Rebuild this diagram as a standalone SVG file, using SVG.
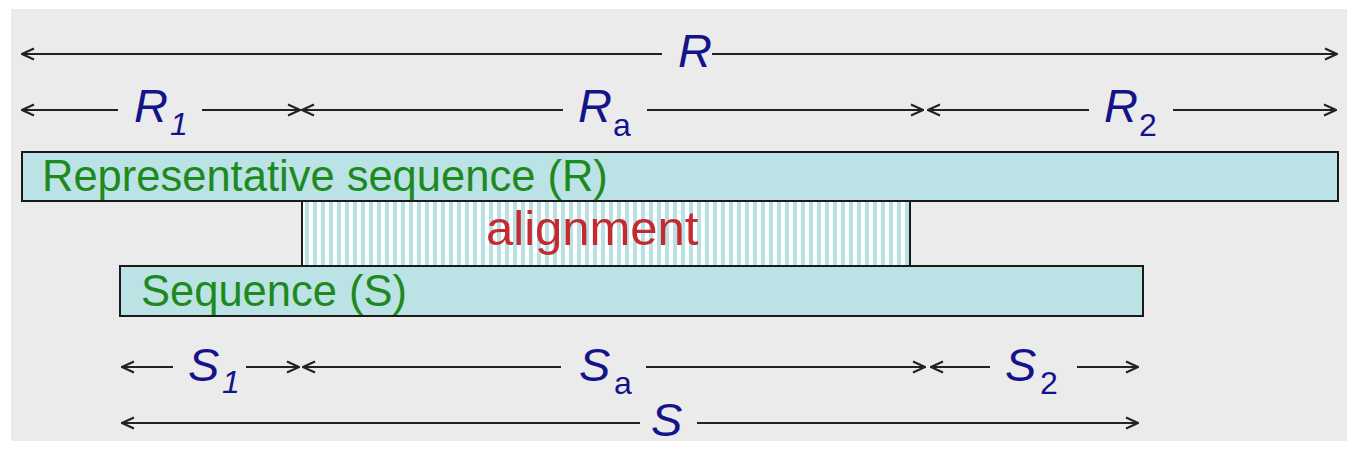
<svg xmlns="http://www.w3.org/2000/svg" width="1357" height="451" viewBox="0 0 1357 451">
  <defs>
    <pattern id="stripes" x="305" y="0" width="8" height="10" patternUnits="userSpaceOnUse">
      <rect x="0" y="0" width="8" height="10" fill="#ffffff"/>
      <rect x="0" y="0" width="4" height="10" fill="#b9e1e4"/>
    </pattern>
    <marker id="head" viewBox="0 0 14 14" refX="13" refY="7" markerWidth="14" markerHeight="14" markerUnits="userSpaceOnUse" orient="auto">
      <path d="M1,1.5 L13,7 L1,12.5" fill="none" stroke="#222" stroke-width="2"/>
    </marker>
  </defs>
  <style>
    .bar { fill: #bbe2e4; stroke: #1a1a1a; stroke-width: 2; }
    .conn line { stroke: #222; stroke-width: 2; marker-end: url(#head); }
    .lbl { font-family: "Liberation Sans", Arial, sans-serif; font-style: italic; fill: #14148a; font-size: 47px; }
    .sub { font-size: 32px; }
    .up { font-style: normal; }
    .boxtxt { font-family: "Liberation Sans", Arial, sans-serif; fill: #1e8a1e; font-size: 43.5px; }
    .align { font-family: "Liberation Sans", Arial, sans-serif; fill: #c42a30; font-size: 49px; }
  </style>
  <rect x="0" y="0" width="1357" height="451" fill="#ffffff"/>
  <rect x="11" y="9" width="1336" height="432" fill="#ebebeb"/>

  <g id="rep-seq">
    <rect class="bar" x="22" y="152" width="1316" height="49"/>
    <text class="boxtxt" x="42" y="191">Representative sequence (R)</text>
  </g>
  <g id="alignment">
    <rect x="302" y="201" width="608" height="65" fill="url(#stripes)" stroke="#1a1a1a" stroke-width="2"/>
    <text class="align" x="486" y="245">alignment</text>
  </g>
  <g id="seq">
    <rect class="bar" x="120" y="266" width="1023" height="50"/>
    <text class="boxtxt" x="141" y="306">Sequence (S)</text>
  </g>

  <g id="connectors" class="conn">
    <line x1="662" y1="54" x2="22" y2="54"/>
    <line x1="712" y1="54" x2="1337" y2="54"/>
    <line x1="118" y1="110" x2="22" y2="110"/>
    <line x1="202" y1="110" x2="300" y2="110"/>
    <line x1="563" y1="110" x2="302" y2="110"/>
    <line x1="647" y1="110" x2="923" y2="110"/>
    <line x1="1089" y1="110" x2="928" y2="110"/>
    <line x1="1173" y1="110" x2="1336" y2="110"/>
    <line x1="173" y1="367" x2="122" y2="367"/>
    <line x1="246" y1="367" x2="299" y2="367"/>
    <line x1="561" y1="367" x2="303" y2="367"/>
    <line x1="646" y1="367" x2="925" y2="367"/>
    <line x1="990" y1="367" x2="931" y2="367"/>
    <line x1="1077" y1="367" x2="1138" y2="367"/>
    <line x1="640" y1="423" x2="122" y2="423"/>
    <line x1="697" y1="423" x2="1138" y2="423"/>
  </g>

  <g id="label-R"><text class="lbl" x="678" y="67">R</text></g>
  <g id="label-R1"><text class="lbl" x="134" y="122">R</text><text class="lbl sub" x="170" y="135">1</text></g>
  <g id="label-Ra"><text class="lbl" x="578" y="122">R</text><text class="lbl sub up" x="613" y="136">a</text></g>
  <g id="label-R2"><text class="lbl" x="1104" y="122">R</text><text class="lbl sub up" x="1139" y="136">2</text></g>
  <g id="label-S1"><text class="lbl" x="188" y="381">S</text><text class="lbl sub" x="222" y="393">1</text></g>
  <g id="label-Sa"><text class="lbl" x="579" y="381">S</text><text class="lbl sub up" x="614" y="394">a</text></g>
  <g id="label-S2"><text class="lbl" x="1005" y="381">S</text><text class="lbl sub up" x="1040" y="394">2</text></g>
  <g id="label-S"><text class="lbl" x="651" y="436">S</text></g>
</svg>
